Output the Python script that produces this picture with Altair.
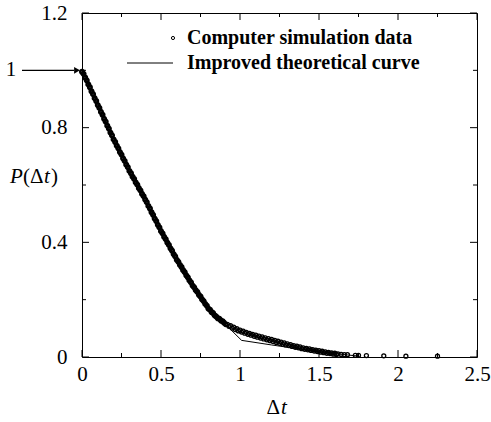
import altair as alt
import pandas as pd

# ---------------- data ----------------
sim_main_x = [0.00, 0.01, 0.02, 0.03, 0.04, 0.05, 0.06, 0.07, 0.08, 0.09,
              0.10, 0.11, 0.12, 0.13, 0.14, 0.15, 0.16, 0.17, 0.18, 0.19,
              0.20, 0.21, 0.22, 0.23, 0.24, 0.25, 0.26, 0.27, 0.28, 0.29,
              0.30, 0.31, 0.32, 0.33, 0.34, 0.35, 0.36, 0.37, 0.38, 0.39,
              0.40, 0.41, 0.42, 0.43, 0.44, 0.45, 0.46, 0.47, 0.48, 0.49,
              0.50, 0.51, 0.52, 0.53, 0.54, 0.55, 0.56, 0.57, 0.58, 0.59,
              0.60, 0.61, 0.62, 0.63, 0.64, 0.65, 0.66, 0.67, 0.68, 0.69,
              0.70, 0.71, 0.72, 0.73, 0.74, 0.75, 0.76, 0.77, 0.78, 0.79,
              0.80, 0.81, 0.82, 0.83, 0.84, 0.85, 0.86, 0.87, 0.88, 0.89, 0.90]
sim_main_y = [0.995, 0.988, 0.975, 0.965, 0.951, 0.941, 0.927, 0.917, 0.903, 0.893,
              0.879, 0.869, 0.855, 0.845, 0.831, 0.821, 0.807, 0.797, 0.783, 0.773,
              0.759, 0.750, 0.737, 0.728, 0.715, 0.706, 0.693, 0.684, 0.671, 0.662,
              0.649, 0.641, 0.629, 0.621, 0.609, 0.601, 0.589, 0.581, 0.569, 0.561,
              0.549, 0.540, 0.527, 0.518, 0.505, 0.496, 0.483, 0.474, 0.461, 0.452,
              0.439, 0.431, 0.419, 0.411, 0.399, 0.391, 0.379, 0.371, 0.359, 0.351,
              0.339, 0.332, 0.321, 0.314, 0.303, 0.296, 0.285, 0.278, 0.267, 0.260,
              0.249, 0.243, 0.233, 0.227, 0.217, 0.211, 0.201, 0.195, 0.185, 0.179,
              0.169, 0.165, 0.157, 0.153, 0.145, 0.141, 0.135, 0.133, 0.127, 0.125, 0.119]
sim_tail_x = [0.92, 0.94, 0.96, 0.98, 1.00, 1.02, 1.04, 1.06, 1.08, 1.10, 1.12, 1.14,
              1.16, 1.18, 1.20, 1.22, 1.24, 1.26, 1.28, 1.30, 1.32, 1.34, 1.36, 1.38,
              1.40, 1.42, 1.44, 1.46, 1.48, 1.50, 1.52, 1.54, 1.56, 1.58, 1.60, 1.62,
              0.91, 0.93, 0.95, 0.97, 0.99, 1.01, 1.03, 1.05, 1.07, 1.09, 1.11, 1.13,
              1.15, 1.17, 1.19, 1.21, 1.23, 1.25, 1.27, 1.29, 1.31, 1.33, 1.35, 1.37,
              1.39, 1.41, 1.43, 1.45, 1.47, 1.49, 1.51, 1.53, 1.55, 1.57, 1.59, 1.61,
              1.64, 1.66, 1.68, 1.73, 1.75, 1.80, 1.91, 2.05, 2.25]
sim_tail_y = [0.114, 0.109, 0.104, 0.099, 0.094, 0.090, 0.086, 0.082, 0.079, 0.076, 0.073, 0.070,
              0.067, 0.064, 0.061, 0.058, 0.055, 0.052, 0.049, 0.046, 0.043, 0.040, 0.038, 0.035,
              0.032, 0.030, 0.028, 0.026, 0.024, 0.022, 0.020, 0.018, 0.016, 0.014, 0.013, 0.011,
              0.113, 0.107, 0.101, 0.096, 0.091, 0.087, 0.083, 0.079, 0.076, 0.072, 0.069, 0.066,
              0.063, 0.060, 0.057, 0.054, 0.051, 0.048, 0.045, 0.042, 0.040, 0.037, 0.034, 0.032,
              0.029, 0.027, 0.025, 0.023, 0.021, 0.019, 0.017, 0.015, 0.013, 0.012, 0.010, 0.009,
              0.009, 0.008, 0.008, 0.006, 0.006, 0.005, 0.004, 0.003, 0.003]

theory_x = [0.0, 0.1, 0.2, 0.3, 0.4, 0.5, 0.6, 0.7, 0.8, 0.86, 0.90, 1.01, 1.2, 1.4, 1.6, 1.75]
theory_y = [1.0, 0.88, 0.76, 0.65, 0.55, 0.44, 0.34, 0.25, 0.17, 0.14, 0.118, 0.058, 0.042, 0.026, 0.012, 0.003]

x_label_values = [0, 0.5, 1, 1.5, 2, 2.5]
y_label_values = [0, 0.4, 0.8, 1.2]
x_minor_ticks = [0.25, 0.75, 1.25, 1.75, 2.25]
y_minor_ticks = [0.2, 0.6, 1.0]
arrow_level = [1.0]
arrow_text = ["1"]

legend_labels = ["Computer simulation data", "Improved theoretical curve"]

# ---------------- layout ----------------
W, H = 395, 344
LEFT, TOP = 82, 13
FONT = "Times New Roman, Liberation Serif, serif"
FS = 21
MAJ, MIN = 7, 4

sim_main = pd.DataFrame({"x": sim_main_x, "y": sim_main_y})
sim_tail = pd.DataFrame({"x": sim_tail_x, "y": sim_tail_y})
theo = pd.DataFrame({"x": theory_x, "y": theory_y})
one = pd.DataFrame({"y": arrow_level, "t": arrow_text})

xscale = alt.Scale(domain=[0, 2.5], nice=False)
yscale = alt.Scale(domain=[0, 1.2], nice=False)


def label_axis(orient, values, pad):
    return alt.Axis(orient=orient, values=values, format="~g", ticks=False,
                    domain=False, grid=False, title=None, labelFont=FONT,
                    labelFontSize=FS, labelColor="black", labelPadding=pad,
                    labelFlush=False, labelOverlap=False)


XAX = label_axis("bottom", x_label_values, 6)
YAX = label_axis("left", y_label_values, 15)


def X():
    return alt.X("x:Q", scale=xscale, axis=XAX)


def Y():
    return alt.Y("y:Q", scale=yscale, axis=YAX)


points_main = alt.Chart(sim_main).mark_point(shape="circle", filled=False, size=12,
                                             strokeWidth=2.6, color="black", opacity=1).encode(
    x=X(), y=Y())
points_tail = alt.Chart(sim_tail).mark_point(shape="circle", filled=False, size=16,
                                             strokeWidth=1.3, color="black", opacity=1).encode(
    x=X(), y=Y())
theory = alt.Chart(theo).mark_line(color="black", strokeWidth=1).encode(x=X(), y=Y())


# inward ticks on all four sides, placed through the scales
def xticks(vals, length):
    d = pd.DataFrame({"x": vals})
    b = alt.Chart(d).mark_rule(color="black", strokeWidth=1).encode(
        x=X(), y=alt.value(H), y2=alt.value(H - length))
    t = alt.Chart(d).mark_rule(color="black", strokeWidth=1).encode(
        x=X(), y=alt.value(0), y2=alt.value(length))
    return [b, t]


def yticks(vals, length):
    d = pd.DataFrame({"y": vals})
    l = alt.Chart(d).mark_rule(color="black", strokeWidth=1).encode(
        y=Y(), x=alt.value(0), x2=alt.value(length))
    r = alt.Chart(d).mark_rule(color="black", strokeWidth=1).encode(
        y=Y(), x=alt.value(W), x2=alt.value(W - length))
    return [l, r]


tick_layers = (xticks(x_label_values, MAJ) + xticks(x_minor_ticks, MIN)
               + yticks(y_label_values, MAJ) + yticks(y_minor_ticks, MIN))

# "1" with arrow
one_text = alt.Chart(one).mark_text(font=FONT, fontSize=FS, align="center",
                                    baseline="middle", color="black").encode(
    x=alt.value(11 - LEFT), y=Y(), text="t:N")
arrow_line = alt.Chart(one).mark_rule(color="black", strokeWidth=1.3).encode(
    x=alt.value(22 - LEFT), x2=alt.value(74 - LEFT), y=Y())
arrow_head = alt.Chart(one).mark_point(shape="triangle-right", filled=True, size=45,
                                       color="black", opacity=1).encode(
    x=alt.value(77 - LEFT), y=Y())

dummy = pd.DataFrame({"a": [0]})


def txt(s, x, y, align="left", style="normal", weight="normal", size=FS):
    return alt.Chart(dummy).mark_text(text=s, font=FONT, fontSize=size, align=align,
                                      baseline="middle", fontStyle=style,
                                      fontWeight=weight, color="black").encode(
        x=alt.value(x - LEFT), y=alt.value(y - TOP))


# legend
leg_circle = alt.Chart(dummy).mark_point(shape="circle", filled=False, size=10,
                                         strokeWidth=1, color="black", opacity=1).encode(
    x=alt.value(173 - LEFT), y=alt.value(38 - TOP))
leg_line = alt.Chart(dummy).mark_rule(color="black", strokeWidth=1).encode(
    x=alt.value(127 - LEFT), x2=alt.value(173 - LEFT), y=alt.value(63 - TOP))
leg_t1 = txt(legend_labels[0], 187, 38, weight="bold", size=20)
leg_t2 = txt(legend_labels[1], 187, 63, weight="bold", size=20)

# axis titles
yt = [txt("P", 10, 177, style="italic"), txt("(Δ", 23, 177),
      txt("t", 44, 177, style="italic"), txt(")", 51, 177)]
xt = [txt("Δ", 280, 408, align="right"), txt("t", 281, 408, style="italic")]

chart = alt.layer(
    points_main, theory, points_tail, *tick_layers, one_text, arrow_line, arrow_head,
    leg_circle, leg_line, leg_t1, leg_t2, *yt, *xt
).properties(
    width=W, height=H,
    autosize=alt.AutoSizeParams(type="none"),
    padding={"left": LEFT, "top": TOP, "right": 491 - LEFT - W, "bottom": 422 - TOP - H},
    background="white",
).configure_view(stroke="black", strokeWidth=1)

chart.save("out.html", embed_options={"renderer": "svg", "actions": False})
